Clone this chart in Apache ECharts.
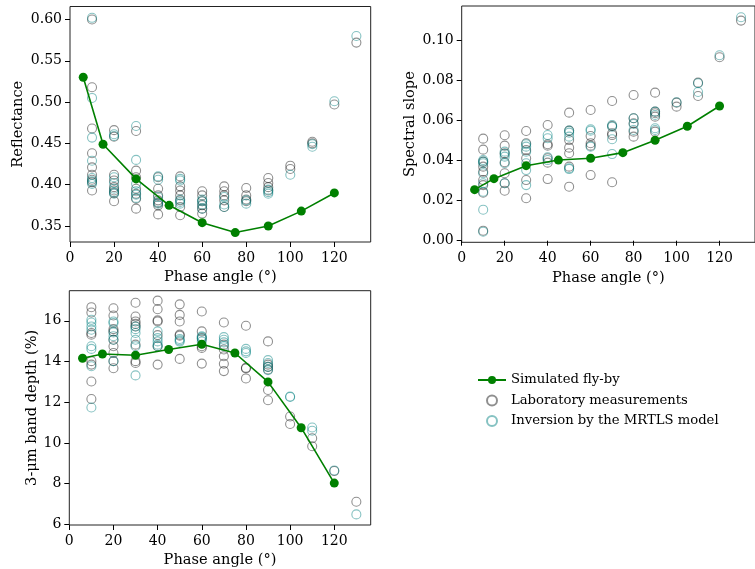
<!DOCTYPE html>
<html>
<head>
<meta charset="utf-8">
<script src="https://cdn.jsdelivr.net/npm/echarts@6/dist/echarts.min.js"></script>
<style>
html,body{margin:0;padding:0;background:#fff;}
#chart{width:755px;height:569px;}
</style>
</head>
<body>
<div id="chart"></div>
<script>
// ---------- data ----------
const phaseSim = [6, 15, 30, 45, 60, 75, 90, 105, 120];
const reflSim  = [0.530, 0.449, 0.407, 0.375, 0.354, 0.342, 0.350, 0.368, 0.390];
const slopeSim = [0.0255, 0.031, 0.0375, 0.0403, 0.0412, 0.044, 0.0502, 0.0572, 0.0673];
const depthSim = [14.16, 14.37, 14.31, 14.59, 14.85, 14.42, 13.0, 10.75, 8.03];

const phaseLab = [10, 20, 30, 40, 50, 60, 70, 80, 90, 100, 110, 120, 130];

const reflLab = [
  [0.600, 0.518, 0.468, 0.438, 0.421, 0.412, 0.406, 0.403, 0.393],
  [0.466, 0.458, 0.412, 0.405, 0.397, 0.393, 0.390, 0.380],
  [0.465, 0.417, 0.409, 0.395, 0.389, 0.383, 0.371],
  [0.409, 0.395, 0.387, 0.381, 0.378, 0.375, 0.364],
  [0.410, 0.398, 0.393, 0.387, 0.381, 0.373, 0.363],
  [0.392, 0.387, 0.380, 0.375, 0.371, 0.365],
  [0.398, 0.392, 0.387, 0.381, 0.373],
  [0.396, 0.387, 0.382, 0.380],
  [0.408, 0.402, 0.397, 0.393],
  [0.423, 0.419],
  [0.452, 0.450],
  [0.497],
  [0.572]
];
const reflInv = [
  [0.602, 0.505, 0.457, 0.429, 0.408, 0.404, 0.401],
  [0.461, 0.459, 0.409, 0.402, 0.395, 0.391, 0.389],
  [0.471, 0.430, 0.401, 0.392, 0.388, 0.384],
  [0.410, 0.406, 0.385, 0.379, 0.377],
  [0.407, 0.405, 0.382, 0.379, 0.377],
  [0.382, 0.380, 0.376, 0.371],
  [0.385, 0.376, 0.373],
  [0.381, 0.377],
  [0.394, 0.391, 0.389],
  [0.412],
  [0.449, 0.446],
  [0.501],
  [0.580]
];

const slopeLab = [
  [0.051, 0.0455, 0.0395, 0.037, 0.0345, 0.0303, 0.0278, 0.024, 0.005],
  [0.0527, 0.0475, 0.0437, 0.0392, 0.0337, 0.0287, 0.025],
  [0.0548, 0.0487, 0.0453, 0.0412, 0.0303, 0.0212],
  [0.0578, 0.0482, 0.0475, 0.0412, 0.039, 0.0308],
  [0.064, 0.055, 0.0503, 0.0465, 0.0437, 0.037, 0.027],
  [0.0653, 0.0523, 0.0487, 0.0475, 0.0328],
  [0.0698, 0.0573, 0.0537, 0.0528, 0.0292],
  [0.0728, 0.0612, 0.0587, 0.0545, 0.052],
  [0.074, 0.0645, 0.0637, 0.062, 0.0545],
  [0.069, 0.067],
  [0.079, 0.0723],
  [0.0917],
  [0.110]
];
const slopeInv = [
  [0.0403, 0.0395, 0.0387, 0.0337, 0.0287, 0.0245, 0.0155, 0.0045],
  [0.0445, 0.0433, 0.042, 0.0387, 0.0287],
  [0.0482, 0.047, 0.0445, 0.0387, 0.0353, 0.0278],
  [0.0528, 0.0512, 0.0417, 0.0403],
  [0.055, 0.054, 0.052, 0.0362, 0.0358],
  [0.0557, 0.055, 0.047],
  [0.0578, 0.057, 0.0507, 0.0433],
  [0.0612, 0.0583, 0.0553],
  [0.0645, 0.0628, 0.0562, 0.0553],
  [0.0692],
  [0.0787, 0.0743],
  [0.0927],
  [0.1117]
];

const depthLab = [
  [16.67, 16.41, 15.40, 15.32, 14.02, 13.85, 13.02, 12.16],
  [16.62, 16.26, 15.59, 15.48, 15.07, 14.75, 14.42, 14.02, 13.67],
  [16.89, 16.21, 15.97, 15.85, 15.72, 14.83, 14.02, 13.93],
  [16.99, 16.57, 16.02, 15.97, 15.30, 14.75, 13.85],
  [16.81, 16.29, 15.97, 15.32, 15.27, 14.13],
  [16.46, 15.48, 15.15, 14.75, 14.67, 13.90],
  [15.92, 14.83, 14.59, 14.26, 13.89, 13.53],
  [15.76, 13.69, 13.66, 13.17],
  [14.99, 13.85, 13.74, 13.61, 12.60, 12.10],
  [11.30, 10.93],
  [10.23, 9.84],
  [8.62],
  [7.11]
];
const depthInv = [
  [16.05, 15.92, 15.72, 15.56, 14.75, 14.62, 13.77, 11.74],
  [15.97, 15.89, 15.43, 15.24, 15.07, 14.02],
  [15.72, 15.59, 15.40, 15.07, 14.75, 13.32],
  [15.48, 15.15, 14.99, 14.83, 14.75],
  [15.11, 15.04, 14.98],
  [15.24, 15.20, 15.11, 14.99],
  [15.20, 15.07, 14.94, 14.75],
  [14.62, 14.50, 14.42],
  [14.07, 13.93, 13.74, 13.58],
  [12.28, 12.26],
  [10.76, 10.60],
  [8.65],
  [6.49]
];

const xTicks = [0, 20, 40, 60, 80, 100, 120];
const reflTicks = [0.35, 0.40, 0.45, 0.50, 0.55, 0.60];
const slopeTicks = [0.00, 0.02, 0.04, 0.06, 0.08, 0.10];
const depthTicks = [6, 8, 10, 12, 14, 16];

// ---------- build ----------
const FONT = 'DejaVu Serif';
const FS = 14;
const FSN = 14.6;
function pairs(xs, ys) { return xs.map((x, i) => [x, ys[i]]); }
function flat(xs, groups) {
  const out = [];
  groups.forEach((g, i) => g.forEach(v => out.push([xs[i], v])));
  return out;
}
const SIM = 'Simulated fly-by', LAB = 'Laboratory measurements', INV = 'Inversion by the MRTLS model';
const grayC = 'rgba(0,0,0,0.55)';
const tealC = 'rgba(0,128,128,0.6)';

function xAxis(idx) {
  return {
    type: 'value', gridIndex: idx, min: 0, max: 136.5,
    name: 'Phase angle (°)', nameLocation: 'middle', nameGap: 28,
    nameTextStyle: { fontFamily: FONT, fontSize: FSN, color: '#000' },
    axisLine: { show: false },
    axisTick: { show: true, length: 5, customValues: xTicks, lineStyle: { color: '#000' } },
    axisLabel: { customValues: xTicks, margin: 9, fontFamily: FONT, fontSize: FS, color: '#000' },
    splitLine: { show: false }
  };
}
function yAxis(idx, name, min, max, ticks, gap, fmt) {
  return {
    type: 'value', gridIndex: idx, min: min, max: max,
    name: name, nameLocation: 'middle', nameGap: gap, nameRotate: 90,
    nameTextStyle: { fontFamily: FONT, fontSize: FSN, color: '#000' },
    axisLine: { show: false },
    axisTick: { show: true, length: 5, customValues: ticks, lineStyle: { color: '#000' } },
    axisLabel: { customValues: ticks, margin: 8, fontFamily: FONT, fontSize: FS, color: '#000', formatter: fmt },
    splitLine: { show: false }
  };
}
function simSeries(idx, ys) {
  return {
    name: SIM, type: 'line', xAxisIndex: idx, yAxisIndex: idx, z: 5,
    data: pairs(phaseSim, ys), symbol: 'circle', symbolSize: 9,
    lineStyle: { color: '#008000', width: 1.6 }, itemStyle: { color: '#008000' }
  };
}
function scat(idx, name, groups, color) {
  return {
    name: name, type: 'scatter', xAxisIndex: idx, yAxisIndex: idx, z: 3,
    data: flat(phaseLab, groups), symbol: 'circle', symbolSize: 9,
    itemStyle: { color: 'rgba(255,255,255,0)', borderColor: color, borderWidth: 1.1 },
    emphasis: { disabled: true }
  };
}

const chart = echarts.init(document.getElementById('chart'), null, { renderer: 'canvas' });
chart.setOption({
  animation: false,
  backgroundColor: '#fff',
  grid: [
    { left: 70, top: 6.5, width: 300.7, height: 235.5, show: true, borderColor: '#222', borderWidth: 1, backgroundColor: 'transparent' },
    { left: 461.7, top: 6, width: 301.4, height: 236.3, show: true, borderColor: '#222', borderWidth: 1, backgroundColor: 'transparent' },
    { left: 69.3, top: 290.7, width: 301.4, height: 235.3, show: true, borderColor: '#222', borderWidth: 1, backgroundColor: 'transparent' }
  ],
  xAxis: [xAxis(0), xAxis(1), xAxis(2)],
  yAxis: [
    yAxis(0, 'Reflectance', 0.3306, 0.6157, reflTicks, 44, v => v.toFixed(2)),
    yAxis(1, 'Spectral slope', -0.0008, 0.1173, slopeTicks, 44, v => v.toFixed(2)),
    yAxis(2, '3-μm band depth (%)', 5.97, 17.48, depthTicks, 30, v => String(v))
  ],
  legend: {
    orient: 'vertical', left: 472, top: 368,
    itemWidth: 28, itemHeight: 10, itemGap: 6.5,
    textStyle: { fontFamily: FONT, fontSize: 13.2, color: '#000', lineHeight: 14 },
    data: [SIM, LAB, INV]
  },
  series: [
    scat(0, LAB, reflLab, grayC), scat(0, INV, reflInv, tealC), simSeries(0, reflSim),
    scat(1, LAB, slopeLab, grayC), scat(1, INV, slopeInv, tealC), simSeries(1, slopeSim),
    scat(2, LAB, depthLab, grayC), scat(2, INV, depthInv, tealC), simSeries(2, depthSim)
  ]
});
</script>
</body>
</html>
